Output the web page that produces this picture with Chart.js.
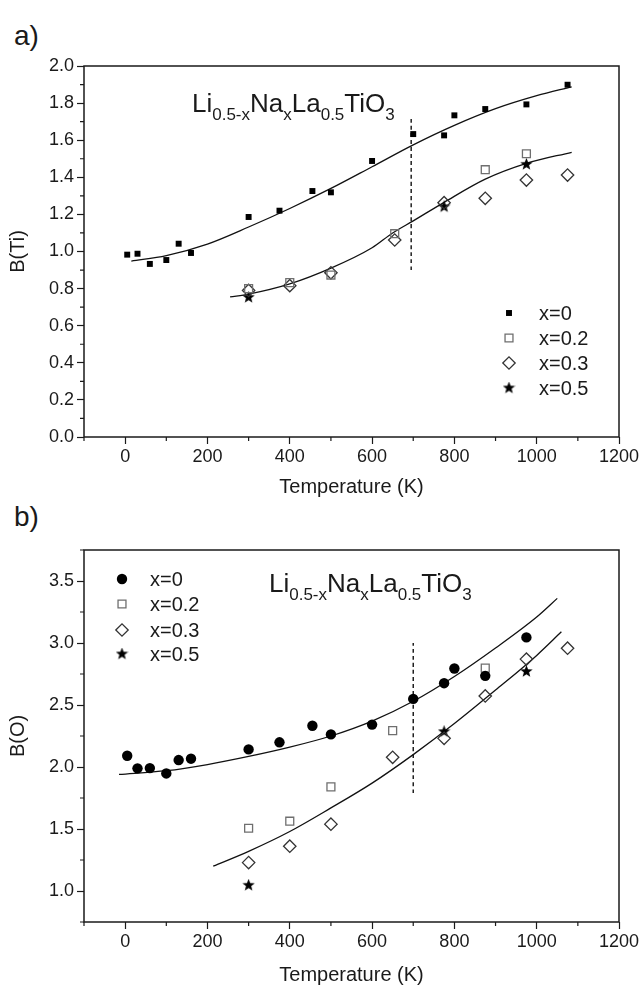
<!DOCTYPE html>
<html lang="en">
<head>
<meta charset="UTF-8">
<title>B(Ti) and B(O) vs temperature</title>
<script src="https://cdn.jsdelivr.net/npm/chart.js"></script>
<style>
    body { margin: 0; background: #fff; }
    #wrap { position: relative; width: 643px; height: 988px; font-family: "Liberation Sans", Arial, sans-serif; color: #1a1a1a; }
    canvas { position: absolute; left: 0; }
    .panel-tag { position: absolute; left: 14px; font-size: 28px; line-height: 30px; }
</style>
</head>
<body>
<div id="wrap">
    <div class="panel-tag" style="top:21px">a)</div>
    <div class="panel-tag" style="top:502px">b)</div>
    <canvas id="chartTi" width="643" height="500" style="top:0"></canvas>
    <canvas id="chartO" width="643" height="488" style="top:500px"></canvas>
</div>

<script>
// ---- data, panel a) B(Ti) ----
const tiT0 = [5, 30, 60, 100, 130, 160, 300, 375, 455, 500, 600, 700, 775, 800, 875, 975, 1075];
const tiB0 = [0.983, 0.988, 0.933, 0.954, 1.042, 0.992, 1.186, 1.22, 1.326, 1.319, 1.488, 1.633, 1.626, 1.734, 1.768, 1.793, 1.899];
const tiT2 = [300, 400, 500, 655, 875, 975];
const tiB2 = [0.80, 0.832, 0.873, 1.096, 1.441, 1.527];
const tiT3 = [300, 400, 500, 655, 775, 875, 975, 1075];
const tiB3 = [0.79, 0.816, 0.885, 1.062, 1.263, 1.287, 1.385, 1.412];
const tiT5 = [300, 775, 975];
const tiB5 = [0.753, 1.241, 1.47];
// fitted curves
const fitTi0T = [15, 100, 200, 300, 400, 500, 600, 700, 800, 900, 1000, 1085];
const fitTi0B = [0.948, 0.978, 1.04, 1.132, 1.232, 1.34, 1.457, 1.575, 1.68, 1.77, 1.84, 1.888];
const fitTi2T = [255, 300, 400, 500, 600, 650, 700, 775, 875, 975, 1085];
const fitTi2B = [0.755, 0.77, 0.825, 0.91, 1.02, 1.1, 1.165, 1.265, 1.39, 1.475, 1.535];
const dashTiT = [695, 695];
const dashTiB = [0.9, 1.72];

// ---- data, panel b) B(O) ----
const oT0 = [5, 30, 60, 100, 130, 160, 300, 375, 455, 500, 600, 700, 775, 800, 875, 975];
const oB0 = [2.091, 1.989, 1.991, 1.948, 2.056, 2.067, 2.142, 2.199, 2.333, 2.263, 2.342, 2.549, 2.676, 2.794, 2.735, 3.045];
const oT2 = [300, 400, 500, 650, 875];
const oB2 = [1.506, 1.563, 1.84, 2.293, 2.797];
const oT3 = [300, 400, 500, 650, 775, 875, 975, 1075];
const oB3 = [1.229, 1.361, 1.539, 2.078, 2.231, 2.573, 2.87, 2.958];
const oT5 = [300, 775, 975];
const oB5 = [1.046, 2.285, 2.77];
const fitO0T = [-15, 100, 200, 300, 400, 500, 600, 700, 800, 900, 1000, 1050];
const fitO0B = [1.94, 1.97, 2.02, 2.085, 2.16, 2.25, 2.37, 2.53, 2.73, 2.96, 3.21, 3.36];
const fitO2T = [214, 300, 400, 500, 600, 700, 800, 900, 1000, 1060];
const fitO2B = [1.20, 1.32, 1.48, 1.67, 1.87, 2.10, 2.35, 2.62, 2.90, 3.09];
const dashOT = [700, 700];
const dashOB = [1.79, 3.0];

// ---- ticks & labels ----
const xTicks = [0, 200, 400, 600, 800, 1000, 1200];
const xMinor = [-100, 100, 300, 500, 700, 900, 1100];
const yTicksTi = [0, 0.2, 0.4, 0.6, 0.8, 1.0, 1.2, 1.4, 1.6, 1.8, 2.0];
const yMinorTi = [0.1, 0.3, 0.5, 0.7, 0.9, 1.1, 1.3, 1.5, 1.7, 1.9];
const yTicksO = [1.0, 1.5, 2.0, 2.5, 3.0, 3.5];
const yMinorO = [0.75, 1.25, 1.75, 2.25, 2.75, 3.25, 3.75];
const seriesLabels = ['x=0', 'x=0.2', 'x=0.3', 'x=0.5'];
const formula = [['Li', 0], ['0.5-x', 1], ['Na', 0], ['x', 1], ['La', 0], ['0.5', 1], ['TiO', 0], ['3', 1]];

const FONT = '"Liberation Sans", Arial, sans-serif';
const INK = '#1a1a1a';

// filled five point star used as a point style
function makeStar(size) {
    const c = document.createElement('canvas');
    c.width = size; c.height = size;
    const g = c.getContext('2d');
    const r = size / 2, ri = r * 0.42;
    g.beginPath();
    for (let i = 0; i < 10; i++) {
        const a = -Math.PI / 2 + i * Math.PI / 5;
        const rr = i % 2 ? ri : r;
        g.lineTo(r + rr * Math.cos(a), r + rr * Math.sin(a));
    }
    g.closePath();
    g.fillStyle = '#000';
    g.fill();
    return c;
}
const star = makeStar(13);

const pts = (xs, ys) => xs.map((x, i) => ({ x: x, y: ys[i] }));

function markerSets(d, firstStyle) {
    return [
        { label: seriesLabels[0], data: pts(d[0], d[1]), pointStyle: firstStyle.style, pointRadius: firstStyle.r,
          backgroundColor: '#000', borderColor: '#000', borderWidth: 0 },
        { label: seriesLabels[1], data: pts(d[2], d[3]), pointStyle: 'rect', pointRadius: 5.6,
          backgroundColor: 'rgba(0,0,0,0)', borderColor: '#6f6f6f', borderWidth: 1.3 },
        { label: seriesLabels[2], data: pts(d[4], d[5]), pointStyle: 'rectRot', pointRadius: 6.2,
          backgroundColor: 'rgba(0,0,0,0)', borderColor: '#333', borderWidth: 1.3 },
        { label: seriesLabels[3], data: pts(d[6], d[7]), pointStyle: star, pointRadius: 6,
          backgroundColor: '#000', borderColor: '#000', borderWidth: 0 }
    ].map(s => Object.assign(s, { type: 'scatter', showLine: false, pointHoverRadius: s.pointRadius }));
}

function curve(xs, ys, dash) {
    return {
        type: 'line', label: '', data: pts(xs, ys), borderColor: '#111', borderWidth: dash ? 1.4 : 1.3,
        borderDash: dash ? [4, 3] : [], pointRadius: 0, fill: false,
        cubicInterpolationMode: 'monotone'
    };
}

// frame, minor ticks, formula and legend
function overlay(cfg) {
    return {
        id: 'overlay',
        afterDraw(chart) {
            const ctx = chart.ctx, a = chart.chartArea;
            const xs = chart.scales.x, ys = chart.scales.y;
            ctx.save();
            ctx.strokeStyle = INK;
            ctx.lineWidth = 1.5;
            ctx.strokeRect(a.left, a.top, a.right - a.left, a.bottom - a.top);
            ctx.lineWidth = 1.2;
            ctx.beginPath();
            xMinor.forEach(v => {
                const p = xs.getPixelForValue(v);
                ctx.moveTo(p, a.bottom); ctx.lineTo(p, a.bottom + 4);
            });
            cfg.yMinor.forEach(v => {
                const p = ys.getPixelForValue(v);
                ctx.moveTo(a.left, p); ctx.lineTo(a.left - 4, p);
            });
            ctx.stroke();

            // formula with subscripts
            ctx.fillStyle = INK;
            ctx.textBaseline = 'alphabetic';
            let x = cfg.fx;
            formula.forEach(([t, sub]) => {
                ctx.font = (sub ? '17px ' : '26px ') + FONT;
                ctx.fillText(t, x, cfg.fy + (sub ? 8 : 0));
                x += ctx.measureText(t).width;
            });

            // legend
            ctx.font = '20px ' + FONT;
            ctx.textBaseline = 'middle';
            for (let i = 0; i < 4; i++) {
                const ds = chart.data.datasets[i];
                const y = cfg.ly[i];
                ctx.fillStyle = ds.backgroundColor;
                ctx.strokeStyle = ds.borderColor;
                ctx.lineWidth = ds.borderWidth;
                Chart.helpers.drawPoint(ctx, {
                    pointStyle: ds.pointStyle, radius: ds.pointRadius,
                    rotation: 0, borderWidth: ds.borderWidth
                }, cfg.lx, y);
                ctx.fillStyle = INK;
                ctx.fillText(ds.label, cfg.tx, y + 1);
            }
            ctx.restore();
        }
    };
}

function axes(yMin, yMax, yTicks, yTitle, xHeight) {
    const tickFont = { family: FONT, size: 18 };
    const titleFont = { family: FONT, size: 20 };
    return {
        x: {
            type: 'linear', min: -100, max: 1200,
            afterBuildTicks: s => { s.ticks = xTicks.map(v => ({ value: v })); },
            afterFit: s => { s.height = xHeight; },
            ticks: { font: tickFont, color: INK, padding: 2, maxRotation: 0, autoSkip: false,
                     callback: v => String(v) },
            grid: { drawOnChartArea: false, drawTicks: true, tickLength: 7, tickColor: INK, tickWidth: 1.2 },
            border: { display: false },
            title: { display: true, text: 'Temperature (K)', font: titleFont, color: INK, padding: { top: 0, bottom: 1 } }
        },
        y: {
            type: 'linear', min: yMin, max: yMax,
            afterBuildTicks: s => { s.ticks = yTicks.map(v => ({ value: v })); },
            afterFit: s => { s.width = 84; },
            ticks: { font: tickFont, color: INK, padding: 3, autoSkip: false,
                     callback: v => v.toFixed(1) },
            grid: { drawOnChartArea: false, drawTicks: true, tickLength: 7, tickColor: INK, tickWidth: 1.2 },
            border: { display: false },
            title: { display: true, text: yTitle, font: titleFont, color: INK, padding: { top: 6, bottom: 0 } }
        }
    };
}

function baseOptions(padTop, scales) {
    return {
        responsive: false, animation: false, devicePixelRatio: 1,
        layout: { padding: { top: padTop, right: 24, left: 0, bottom: 0 } },
        plugins: { legend: { display: false }, tooltip: { enabled: false } },
        scales: scales
    };
}

new Chart(document.getElementById('chartTi'), {
    data: {
        datasets: markerSets([tiT0, tiB0, tiT2, tiB2, tiT3, tiB3, tiT5, tiB5], { style: 'rect', r: 4.2 }).concat([
            curve(fitTi0T, fitTi0B), curve(fitTi2T, fitTi2B), curve(dashTiT, dashTiB, true)
        ])
    },
    options: baseOptions(66, axes(0, 2.0, yTicksTi, 'B(Ti)', 63)),
    plugins: [overlay({ yMinor: yMinorTi, fx: 192, fy: 112, ly: [313, 338, 363, 388], lx: 509, tx: 539 })]
});

new Chart(document.getElementById('chartO'), {
    data: {
        datasets: markerSets([oT0, oB0, oT2, oB2, oT3, oB3, oT5, oB5], { style: 'circle', r: 5.2 }).concat([
            curve(fitO0T, fitO0B), curve(fitO2T, fitO2B), curve(dashOT, dashOB, true)
        ])
    },
    options: baseOptions(50, axes(0.75, 3.75, yTicksO, 'B(O)', 66)),
    plugins: [overlay({ yMinor: yMinorO, fx: 269, fy: 92, ly: [79, 104, 130, 154], lx: 122, tx: 150 })]
});
</script>
</body>
</html>
